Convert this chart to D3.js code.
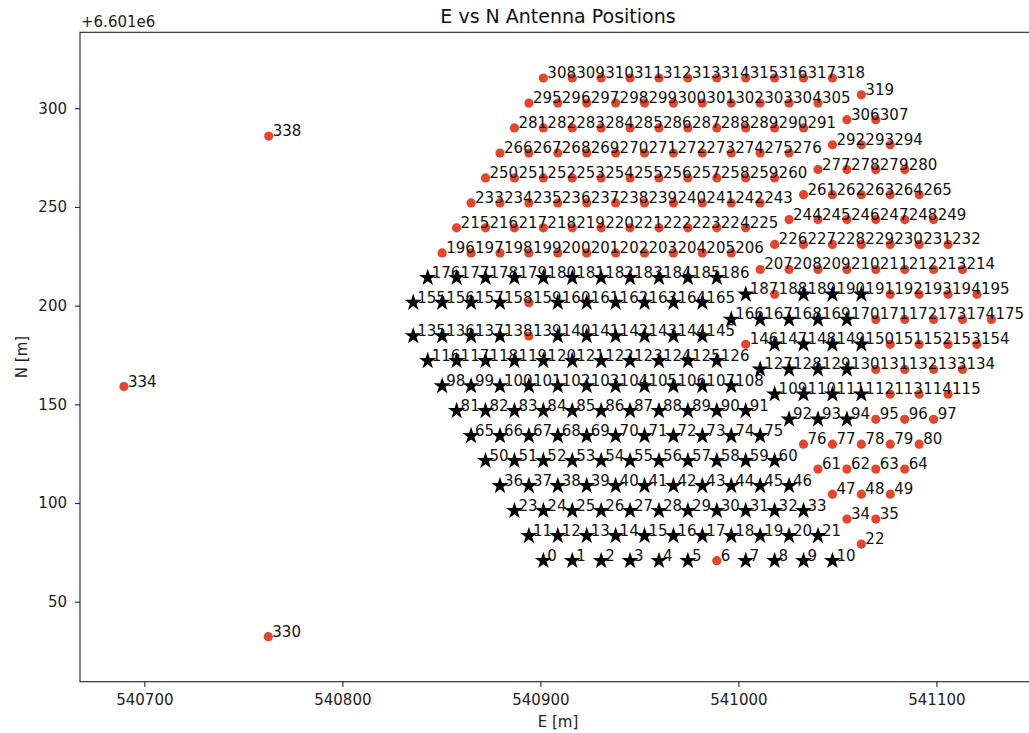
<!DOCTYPE html>
<html>
<head>
<meta charset="utf-8">
<script src="https://cdn.jsdelivr.net/npm/d3@7"></script>
<style>
  body { margin: 0; background: #fff; }
  svg { display: block; font-family: "DejaVu Sans", sans-serif; }
</style>
</head>
<body>
<div id="chart"></div>
<script>
// north values are stored relative to the axis offset (+6.601e6)
const northOffset = "+6.601e6"

const antIds = d3.range(0, 320).concat([330, 334, 338])

const antEast = [
  // row 0
  540901.5, 540916.1, 540930.7, 540945.3, 540959.9, 540974.5, 540989.1, 541003.7, 541018.3, 541032.9, 541047.5,
  // row 1
  540894.2, 540908.8, 540923.4, 540938.0, 540952.6, 540967.2, 540981.8, 540996.4, 541011.0, 541025.6, 541040.2, 541062.1,
  // row 2
  540886.9, 540901.5, 540916.1, 540930.7, 540945.3, 540959.9, 540974.5, 540989.1, 541003.7, 541018.3, 541032.9, 541054.8, 541069.4,
  // row 3
  540879.6, 540894.2, 540908.8, 540923.4, 540938.0, 540952.6, 540967.2, 540981.8, 540996.4, 541011.0, 541025.6, 541047.5, 541062.1, 541076.7,
  // row 4
  540872.3, 540886.9, 540901.5, 540916.1, 540930.7, 540945.3, 540959.9, 540974.5, 540989.1, 541003.7, 541018.3, 541040.2, 541054.8, 541069.4, 541084.0,
  // row 5
  540865.0, 540879.6, 540894.2, 540908.8, 540923.4, 540938.0, 540952.6, 540967.2, 540981.8, 540996.4, 541011.0, 541032.9, 541047.5, 541062.1, 541076.7, 541091.3,
  // row 6
  540857.7, 540872.3, 540886.9, 540901.5, 540916.1, 540930.7, 540945.3, 540959.9, 540974.5, 540989.1, 541003.7, 541025.6, 541040.2, 541054.8, 541069.4, 541084.0, 541098.6,
  // row 7
  540850.4, 540865.0, 540879.6, 540894.2, 540908.8, 540923.4, 540938.0, 540952.6, 540967.2, 540981.8, 540996.4, 541018.3, 541032.9, 541047.5, 541062.1, 541076.7, 541091.3, 541105.9,
  // row 8
  540843.1, 540857.7, 540872.3, 540886.9, 540901.5, 540916.1, 540930.7, 540945.3, 540959.9, 540974.5, 540989.1, 541011.0, 541025.6, 541040.2, 541054.8, 541069.4, 541084.0, 541098.6, 541113.2,
  // row 9
  540835.8, 540850.4, 540865.0, 540879.6, 540894.2, 540908.8, 540923.4, 540938.0, 540952.6, 540967.2, 540981.8, 541003.7, 541018.3, 541032.9, 541047.5, 541062.1, 541076.7, 541091.3, 541105.9, 541120.5,
  // row 10
  540835.8, 540850.4, 540865.0, 540879.6, 540894.2, 540908.8, 540923.4, 540938.0, 540952.6, 540967.2, 540981.8, 540996.4, 541011.0, 541025.6, 541040.2, 541054.8, 541069.4, 541084.0, 541098.6, 541113.2, 541127.8,
  // row 11
  540843.1, 540857.7, 540872.3, 540886.9, 540901.5, 540916.1, 540930.7, 540945.3, 540959.9, 540974.5, 540989.1, 541003.7, 541018.3, 541032.9, 541047.5, 541062.1, 541076.7, 541091.3, 541105.9, 541120.5,
  // row 12
  540850.4, 540865.0, 540879.6, 540894.2, 540908.8, 540923.4, 540938.0, 540952.6, 540967.2, 540981.8, 540996.4, 541011.0, 541025.6, 541040.2, 541054.8, 541069.4, 541084.0, 541098.6, 541113.2,
  // row 13
  540857.7, 540872.3, 540886.9, 540901.5, 540916.1, 540930.7, 540945.3, 540959.9, 540974.5, 540989.1, 541003.7, 541018.3, 541032.9, 541047.5, 541062.1, 541076.7, 541091.3, 541105.9,
  // row 14
  540865.0, 540879.6, 540894.2, 540908.8, 540923.4, 540938.0, 540952.6, 540967.2, 540981.8, 540996.4, 541011.0, 541025.6, 541040.2, 541054.8, 541069.4, 541084.0, 541098.6,
  // row 15
  540872.3, 540886.9, 540901.5, 540916.1, 540930.7, 540945.3, 540959.9, 540974.5, 540989.1, 541003.7, 541018.3, 541032.9, 541047.5, 541062.1, 541076.7, 541091.3,
  // row 16
  540879.6, 540894.2, 540908.8, 540923.4, 540938.0, 540952.6, 540967.2, 540981.8, 540996.4, 541011.0, 541025.6, 541040.2, 541054.8, 541069.4, 541084.0,
  // row 17
  540886.9, 540901.5, 540916.1, 540930.7, 540945.3, 540959.9, 540974.5, 540989.1, 541003.7, 541018.3, 541032.9, 541047.5, 541062.1, 541076.7,
  // row 18
  540894.2, 540908.8, 540923.4, 540938.0, 540952.6, 540967.2, 540981.8, 540996.4, 541011.0, 541025.6, 541040.2, 541054.8, 541069.4,
  // row 19
  540901.5, 540916.1, 540930.7, 540945.3, 540959.9, 540974.5, 540989.1, 541003.7, 541018.3, 541032.9, 541047.5, 541062.1,
  // outriggers 330, 334, 338
  540762.6, 540689.7, 540762.8
]

const antNorth = [
  // row 0
  70.8, 70.8, 70.8, 70.8, 70.8, 70.8, 70.8, 70.8, 70.8, 70.8, 70.8,
  // row 1
  83.4, 83.4, 83.4, 83.4, 83.4, 83.4, 83.4, 83.4, 83.4, 83.4, 83.4, 79.2,
  // row 2
  96.1, 96.1, 96.1, 96.1, 96.1, 96.1, 96.1, 96.1, 96.1, 96.1, 96.1, 91.9, 91.9,
  // row 3
  108.7, 108.7, 108.7, 108.7, 108.7, 108.7, 108.7, 108.7, 108.7, 108.7, 108.7, 104.5, 104.5, 104.5,
  // row 4
  121.4, 121.4, 121.4, 121.4, 121.4, 121.4, 121.4, 121.4, 121.4, 121.4, 121.4, 117.2, 117.2, 117.2, 117.2,
  // row 5
  134.0, 134.0, 134.0, 134.0, 134.0, 134.0, 134.0, 134.0, 134.0, 134.0, 134.0, 129.8, 129.8, 129.8, 129.8, 129.8,
  // row 6
  146.7, 146.7, 146.7, 146.7, 146.7, 146.7, 146.7, 146.7, 146.7, 146.7, 146.7, 142.4, 142.4, 142.4, 142.4, 142.4, 142.4,
  // row 7
  159.3, 159.3, 159.3, 159.3, 159.3, 159.3, 159.3, 159.3, 159.3, 159.3, 159.3, 155.1, 155.1, 155.1, 155.1, 155.1, 155.1, 155.1,
  // row 8
  172.0, 172.0, 172.0, 172.0, 172.0, 172.0, 172.0, 172.0, 172.0, 172.0, 172.0, 167.7, 167.7, 167.7, 167.7, 167.7, 167.7, 167.7, 167.7,
  // row 9
  184.6, 184.6, 184.6, 184.6, 184.6, 184.6, 184.6, 184.6, 184.6, 184.6, 184.6, 180.4, 180.4, 180.4, 180.4, 180.4, 180.4, 180.4, 180.4, 180.4,
  // row 10
  201.5, 201.5, 201.5, 201.5, 201.5, 201.5, 201.5, 201.5, 201.5, 201.5, 201.5, 193.0, 193.0, 193.0, 193.0, 193.0, 193.0, 193.0, 193.0, 193.0, 193.0,
  // row 11
  214.1, 214.1, 214.1, 214.1, 214.1, 214.1, 214.1, 214.1, 214.1, 214.1, 214.1, 205.7, 205.7, 205.7, 205.7, 205.7, 205.7, 205.7, 205.7, 205.7,
  // row 12
  226.7, 226.7, 226.7, 226.7, 226.7, 226.7, 226.7, 226.7, 226.7, 226.7, 226.7, 218.3, 218.3, 218.3, 218.3, 218.3, 218.3, 218.3, 218.3,
  // row 13
  239.4, 239.4, 239.4, 239.4, 239.4, 239.4, 239.4, 239.4, 239.4, 239.4, 239.4, 231.0, 231.0, 231.0, 231.0, 231.0, 231.0, 231.0,
  // row 14
  252.0, 252.0, 252.0, 252.0, 252.0, 252.0, 252.0, 252.0, 252.0, 252.0, 252.0, 243.6, 243.6, 243.6, 243.6, 243.6, 243.6,
  // row 15
  264.7, 264.7, 264.7, 264.7, 264.7, 264.7, 264.7, 264.7, 264.7, 264.7, 264.7, 256.2, 256.2, 256.2, 256.2, 256.2,
  // row 16
  277.3, 277.3, 277.3, 277.3, 277.3, 277.3, 277.3, 277.3, 277.3, 277.3, 277.3, 268.9, 268.9, 268.9, 268.9,
  // row 17
  290.0, 290.0, 290.0, 290.0, 290.0, 290.0, 290.0, 290.0, 290.0, 290.0, 290.0, 281.5, 281.5, 281.5,
  // row 18
  302.6, 302.6, 302.6, 302.6, 302.6, 302.6, 302.6, 302.6, 302.6, 302.6, 302.6, 294.2, 294.2,
  // row 19
  315.3, 315.3, 315.3, 315.3, 315.3, 315.3, 315.3, 315.3, 315.3, 315.3, 315.3, 306.8,
  // outriggers
  32.3, 159.0, 285.9
]

// antennas drawn as black stars
const activeIds = [
  0, 1, 2, 3, 4, 5, 7, 8, 9, 10,
  11, 12, 13, 14, 15, 16, 17, 18, 19, 20, 21,
  23, 24, 25, 26, 27, 28, 29, 30, 31, 32, 33,
  36, 37, 38, 39, 40, 41, 42, 43, 44, 45, 46,
  50, 51, 52, 53, 54, 55, 56, 57, 58, 59, 60,
  65, 66, 67, 68, 69, 70, 71, 72, 73, 74, 75,
  81, 82, 83, 84, 85, 86, 87, 88, 89, 90, 91, 92, 93, 94,
  98, 99, 100, 101, 102, 103, 104, 105, 106, 107, 108, 109, 110, 111, 112,
  116, 117, 118, 119, 120, 121, 122, 123, 124, 125, 126, 127, 128, 129, 130,
  135, 136, 137, 138, 140, 141, 142, 143, 144, 145, 147, 148, 149, 150,
  155, 156, 157, 158, 160, 161, 162, 163, 164, 165, 166, 167, 168, 169, 170,
  176, 177, 178, 179, 180, 181, 182, 183, 184, 185, 186, 187, 189, 190, 191
]

const xTicks = [540700, 540800, 540900, 541000, 541100]
const yTicks = [50, 100, 150, 200, 250, 300]

const antennas = antIds.map((id, i) => ({
  id: id,
  e: antEast[i],
  n: antNorth[i],
  active: activeIds.includes(id)
}))

const fullWidth = 1029, fullHeight = 733
// axes box runs a little past the right edge of the picture
const box = { left: 80, right: 1036, top: 32.3, bottom: 681.7 }

const svg = d3.select("#chart")
  .append("svg")
  .attr("width", fullWidth)
  .attr("height", fullHeight)

svg.append("rect")
  .attr("width", fullWidth)
  .attr("height", fullHeight)
  .attr("fill", "#fff")

let x = d3.scaleLinear()
  .domain([540667.5, 541150.3])
  .range([box.left, box.right])

let y = d3.scaleLinear()
  .domain([9.5, 338.45])
  .range([box.bottom, box.top])

// x axis
const xAxis = svg.append("g")
  .attr("transform", "translate(0," + box.bottom + ")")
  .call(d3.axisBottom(x).tickValues(xTicks).tickFormat(d3.format("d")).tickSize(5).tickPadding(8))
xAxis.select(".domain").remove()

// y axis
const yAxis = svg.append("g")
  .attr("transform", "translate(" + box.left + ",0)")
  .call(d3.axisLeft(y).tickValues(yTicks).tickSize(5).tickPadding(8))
yAxis.select(".domain").remove()

svg.selectAll(".tick line").attr("stroke", "#222").attr("stroke-width", 1.1)
svg.selectAll(".tick text")
  .attr("fill", "#222")
  .style("font-size", "15px")
  .style("font-family", "DejaVu Sans, sans-serif")

// frame
svg.append("rect")
  .attr("x", box.left)
  .attr("y", box.top)
  .attr("width", box.right - box.left)
  .attr("height", box.bottom - box.top)
  .attr("fill", "none")
  .attr("stroke", "#222")
  .attr("stroke-width", 1.1)

// inactive antennas: red dots
svg.append("g")
  .selectAll("circle")
  .data(antennas.filter(d => !d.active))
  .enter()
  .append("circle")
  .attr("cx", d => x(d.e))
  .attr("cy", d => y(d.n))
  .attr("r", 4.6)
  .attr("fill", "#e6452d")

// active antennas: black stars
const star = d3.symbol().type(d3.symbolStar).size(92)
svg.append("g")
  .selectAll("path")
  .data(antennas.filter(d => d.active))
  .enter()
  .append("path")
  .attr("d", star)
  .attr("transform", d => "translate(" + x(d.e) + "," + y(d.n) + ")")
  .attr("fill", "#000")

// antenna number labels
svg.append("g")
  .selectAll("text")
  .data(antennas)
  .enter()
  .append("text")
  .attr("x", d => x(d.e) + 4)
  .attr("y", d => y(d.n))
  .style("font-size", "15px")
  .attr("fill", "#111")
  .text(d => d.id)

// title and labels
svg.append("text")
  .attr("x", (box.left + box.right) / 2)
  .attr("y", 22.7)
  .attr("text-anchor", "middle")
  .style("font-size", "19px")
  .attr("fill", "#111")
  .text("E vs N Antenna Positions")

svg.append("text")
  .attr("x", box.left + 1)
  .attr("y", 26.5)
  .style("font-size", "15px")
  .attr("fill", "#222")
  .text(northOffset)

svg.append("text")
  .attr("x", (box.left + box.right) / 2)
  .attr("y", 727)
  .attr("text-anchor", "middle")
  .style("font-size", "15px")
  .attr("fill", "#222")
  .text("E [m]")

svg.append("text")
  .attr("transform", "translate(27," + ((box.top + box.bottom) / 2) + ") rotate(-90)")
  .attr("text-anchor", "middle")
  .style("font-size", "15px")
  .attr("fill", "#222")
  .text("N [m]")
</script>
</body>
</html>
